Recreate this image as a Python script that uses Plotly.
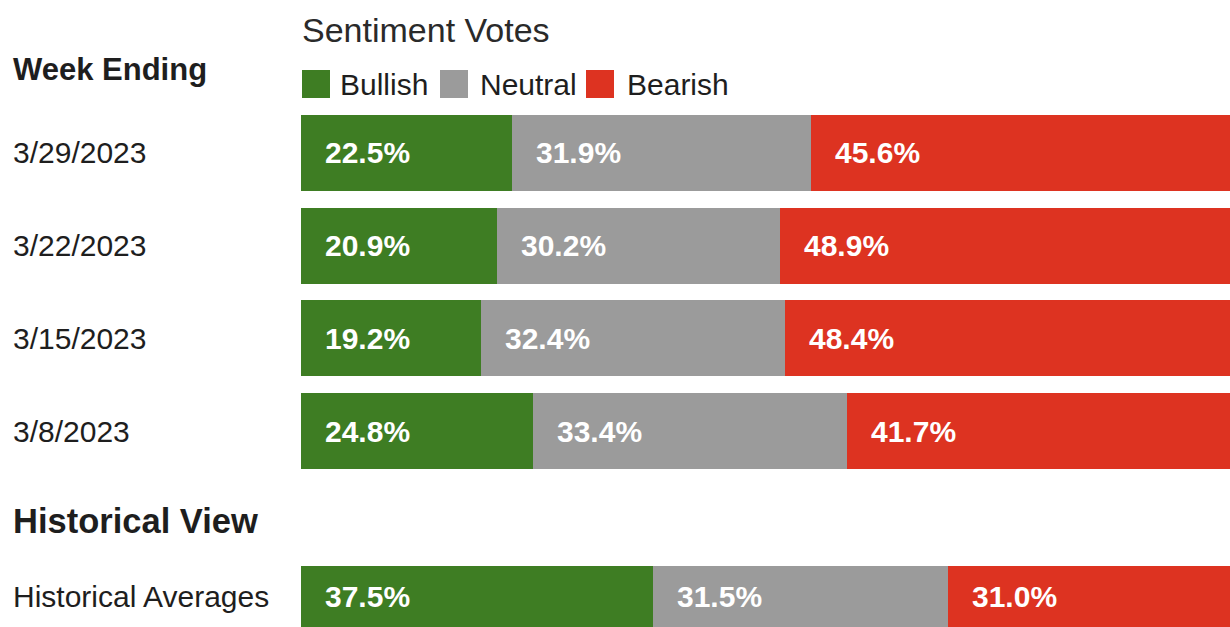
import plotly.graph_objects as go
from plotly.subplots import make_subplots

# Weekly sentiment survey results (percent of votes)
weeks = ["3/29/2023", "3/22/2023", "3/15/2023", "3/8/2023"]
bullish = [22.5, 20.9, 19.2, 24.8]
neutral = [31.9, 30.2, 32.4, 33.4]
bearish = [45.6, 48.9, 48.4, 41.7]

# Long-run averages
hist_rows = ["Historical Averages"]
hist_bullish = [37.5]
hist_neutral = [31.5]
hist_bearish = [31.0]

series_names = ["Bullish", "Neutral", "Bearish"]
colors = {"Bullish": "#3e7d23", "Neutral": "#9b9b9b", "Bearish": "#dd3321"}

W, H = 1230, 627
FONT = "Liberation Sans, Arial, sans-serif"
TEXT = "#1e1e1e"


def px_x(p):
    return p / W


def px_y(p):
    return (H - p) / H


fig = make_subplots(rows=2, cols=1, shared_xaxes=False)

weekly = {"Bullish": bullish, "Neutral": neutral, "Bearish": bearish}
hist = {"Bullish": hist_bullish, "Neutral": hist_neutral, "Bearish": hist_bearish}

for name in series_names:
    fig.add_trace(go.Bar(y=weeks, x=weekly[name], orientation="h", name=name,
                         marker=dict(color=colors[name], line=dict(width=0)),
                         showlegend=False, hoverinfo="skip"), row=1, col=1)
    fig.add_trace(go.Bar(y=hist_rows, x=hist[name], orientation="h", name=name,
                         marker=dict(color=colors[name], line=dict(width=0)),
                         showlegend=False, hoverinfo="skip"), row=2, col=1)

annotations = []


def add_value_labels(rows, data, yref):
    for i, row in enumerate(rows):
        start = 0.0
        for name in series_names:
            v = data[name][i]
            annotations.append(dict(
                x=start, y=row, xref="x" if yref == "y" else "x2", yref=yref,
                text=f"<b>{v:.1f}%</b>", showarrow=False, xanchor="left",
                yanchor="middle", xshift=22,
                font=dict(family=FONT, size=30, color="#ffffff")))
            start += v


add_value_labels(weeks, weekly, "y")
add_value_labels(hist_rows, hist, "y2")

# Row labels, left aligned
for row in weeks:
    annotations.append(dict(x=px_x(11), y=row, xref="paper", yref="y", text=row,
                            showarrow=False, xanchor="left", yanchor="middle",
                            font=dict(family=FONT, size=30, color=TEXT)))
for row in hist_rows:
    annotations.append(dict(x=px_x(11), y=row, xref="paper", yref="y2", text=row,
                            showarrow=False, xanchor="left", yanchor="middle",
                            font=dict(family=FONT, size=30, color=TEXT)))

# Headings
annotations.append(dict(x=px_x(11), y=px_y(70), xref="paper", yref="paper",
                        text="<b>Week Ending</b>", showarrow=False, xanchor="left",
                        yanchor="middle", font=dict(family=FONT, size=31, color=TEXT)))
annotations.append(dict(x=px_x(11), y=px_y(521), xref="paper", yref="paper",
                        text="<b>Historical View</b>", showarrow=False, xanchor="left",
                        yanchor="middle", font=dict(family=FONT, size=34.5, color=TEXT)))
annotations.append(dict(x=px_x(300), y=px_y(30), xref="paper", yref="paper",
                        text="Sentiment Votes", showarrow=False, xanchor="left",
                        yanchor="middle", font=dict(family=FONT, size=34, color="#2a2a2a")))

# Legend: colour swatches with names
shapes = []
legend_items = [("Bullish", 302, 338), ("Neutral", 440, 478), ("Bearish", 586, 625)]
for name, sx, tx in legend_items:
    shapes.append(dict(type="rect", xref="paper", yref="paper",
                       x0=px_x(sx), x1=px_x(sx + 28), y0=px_y(98), y1=px_y(70),
                       fillcolor=colors[name], line=dict(width=0)))
    annotations.append(dict(x=px_x(tx), y=px_y(84), xref="paper", yref="paper",
                            text=name, showarrow=False, xanchor="left", yanchor="middle",
                            font=dict(family=FONT, size=30, color=TEXT)))

x_left = px_x(301)
fig.update_xaxes(range=[0, 99.1], domain=[x_left, 1], visible=False, fixedrange=True)
fig.update_yaxes(visible=False, fixedrange=True)
fig.update_layout(
    width=W, height=H,
    margin=dict(l=0, r=0, t=0, b=0),
    barmode="stack",
    bargap=0.18,
    plot_bgcolor="#ffffff", paper_bgcolor="#ffffff",
    annotations=annotations, shapes=shapes,
    yaxis=dict(domain=[px_y(477.4), px_y(106.6)], categoryorder="array",
               categoryarray=weeks, autorange=False, range=[3.5, -0.5]),
    yaxis2=dict(domain=[0, px_y(559)], autorange=False, range=[-0.41, 0.497]),
)

fig.write_html("out.html")
